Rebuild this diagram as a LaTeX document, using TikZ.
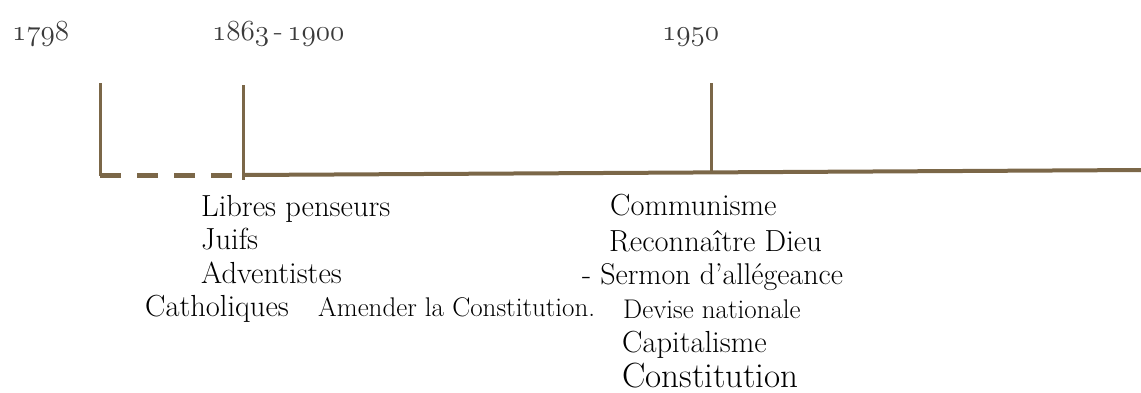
\documentclass[tikz,border=0pt]{standalone}
\usepackage{fontspec}
\definecolor{tlbrown}{HTML}{7B6748}
\definecolor{yeargray}{HTML}{3A3A3A}
\newcommand{\osf}[1]{{\usefont{OML}{lmm}{m}{it}#1}}
\begin{document}
\begin{tikzpicture}[x=1pt,y=-1pt,
  year/.style={anchor=base west,inner sep=0pt,text=yeargray,scale=1.17,font=\fontsize{24.88}{30}\selectfont},
  item/.style={anchor=base west,inner sep=0pt,text=black,font=\fontsize{30.5}{36}\selectfont},
  smallitem/.style={anchor=base west,inner sep=0pt,text=black,font=\fontsize{27}{32}\selectfont},
  bigitem/.style={anchor=base west,inner sep=0pt,text=black,font=\fontsize{35}{42}\selectfont},
  tick/.style={draw=tlbrown,line width=3pt},
  axis/.style={draw=tlbrown,line width=4pt},
  dashaxis/.style={draw=tlbrown,line width=5pt,dash pattern=on 21pt off 16pt}]
\useasboundingbox (0,0) rectangle (1141,392);
% coordinates
\coordinate (t1top) at (100,83);
\coordinate (t1bot) at (100,176);
\coordinate (t2top) at (243,85);
\coordinate (t2bot) at (243,180);
\coordinate (a0) at (243,175);
\coordinate (aend) at (1141,170);
\coordinate (t3top) at (711,83);
\coordinate (t3bot) at (711,172.5);
% lines
\draw[tick] (t1top) -- (t1bot);
\draw[dashaxis] (100,175) -- (a0);
\draw[axis] (a0) -- (aend);
\draw[tick] (t2top) -- (t2bot);
\draw[tick] (t3top) -- (t3bot);
% years
\node[year] (y1) at (12,40) {\osf{1798}};
\node[year] (y2) at (212,40) {\osf{1863}\kern4pt-\kern4pt\osf{1900}};
\node[year] (y3) at (662,40) {\osf{1950}};
% left column
\node[item] (l1) at (201,216) {Libres penseurs};
\node[item] (l2) at (201,249) {Juifs};
\node[item] (l3) at (201,283) {Adventistes};
\node[item] (l4) at (145,316) {Catholiques};
\node[smallitem] (l5) at (318,316) {Amender la Constitution.};
% right column
\node[item] (r1) at (610,215) {Communisme};
\node[item] (r2) at (609,251) {Reconnaître Dieu};
\node[item,font=\fontsize{30}{36}\selectfont] (r3) at (582,284) {- Sermon d’allégeance};
\node[smallitem] (r4) at (623,318) {Devise nationale};
\node[item] (r5) at (622,352) {Capitalisme};
\node[bigitem] (r6) at (622,387) {Constitution};
\end{tikzpicture}
\end{document}
